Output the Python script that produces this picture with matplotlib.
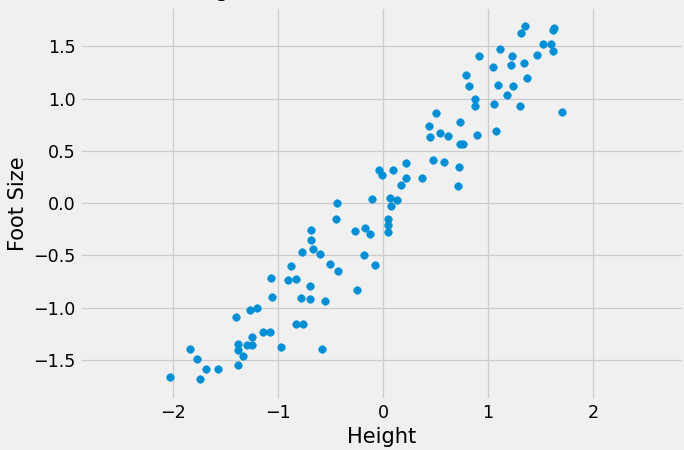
"""Scatter of standardized height against foot size."""

import matplotlib
matplotlib.use("Agg")
import matplotlib.pyplot as plt

height = [
    -2.03, -1.84, -1.77, -1.74, -1.69, -1.57, -1.40, -1.38, -1.38, -1.38,
    -1.33, -1.30, -1.27, -1.25, -1.25, -1.20, -1.14, -1.08, -1.07, -1.06,
    -0.97, -0.91, -0.88, -0.83, -0.83, -0.78, -0.77, -0.76, -0.70, -0.70,
    -0.69, -0.69, -0.67, -0.60, -0.58, -0.55, -0.51, -0.45, -0.44, -0.43,
    -0.27, -0.25, -0.17, -0.18, -0.12, -0.11, -0.08, -0.04, -0.01, 0.05,
    0.05, 0.05, 0.07, 0.08, 0.09, 0.13, 0.17, 0.22, 0.22, 0.37,
    0.44, 0.45, 0.48, 0.50, 0.54, 0.58, 0.62, 0.71, 0.72, 0.73,
    0.73, 0.76, 0.79, 0.82, 0.88, 0.88, 0.89, 0.91, 1.05, 1.06,
    1.08, 1.09, 1.11, 1.18, 1.22, 1.23, 1.24, 1.30, 1.31, 1.35,
    1.34, 1.37, 1.47, 1.52, 1.60, 1.62, 1.63, 1.62, 1.70,
]
foot_size = [
    -1.66, -1.40, -1.49, -1.68, -1.59, -1.59, -1.09, -1.55, -1.35, -1.41,
    -1.46, -1.36, -1.02, -1.36, -1.28, -1.00, -1.23, -1.23, -0.72, -0.90,
    -1.38, -0.74, -0.60, -0.73, -1.16, -0.91, -0.47, -1.16, -0.92, -0.79,
    -0.26, -0.35, -0.44, -0.49, -1.40, -0.94, -0.58, -0.15, 0.00, -0.65,
    -0.27, -0.83, -0.24, -0.50, -0.30, 0.04, -0.59, 0.32, 0.27, -0.15,
    -0.21, -0.28, 0.05, -0.03, 0.32, 0.03, 0.17, 0.24, 0.38, 0.24,
    0.74, 0.63, 0.41, 0.86, 0.67, 0.39, 0.64, 0.16, 0.35, 0.57,
    0.78, 0.57, 1.23, 1.12, 1.00, 0.93, 0.65, 1.41, 1.30, 0.95,
    0.69, 1.13, 1.48, 1.04, 1.32, 1.41, 1.12, 0.93, 1.63, 1.70,
    1.34, 1.20, 1.42, 1.52, 1.52, 1.66, 1.68, 1.46, 0.87,
]

plt.style.use("fivethirtyeight")

fig = plt.figure(figsize=(7.6, 5.0), dpi=90)
ax = fig.add_axes([0.117, 0.111, 0.883, 0.873])

ax.scatter(height, foot_size)
ax.set_xlim(-2.886, 2.866)
ax.set_ylim(-1.885, 1.876)
ax.set_xlabel("Height")
ax.set_ylabel("Foot Size")

# title sits mostly above the visible canvas, as in the original crop
fig.text(181 / 684, 1 + 3.3 / 450, "Height vs Foot Size", fontsize=16.8,
         ha="left", va="baseline")

fig.savefig("out.png", dpi=90)
